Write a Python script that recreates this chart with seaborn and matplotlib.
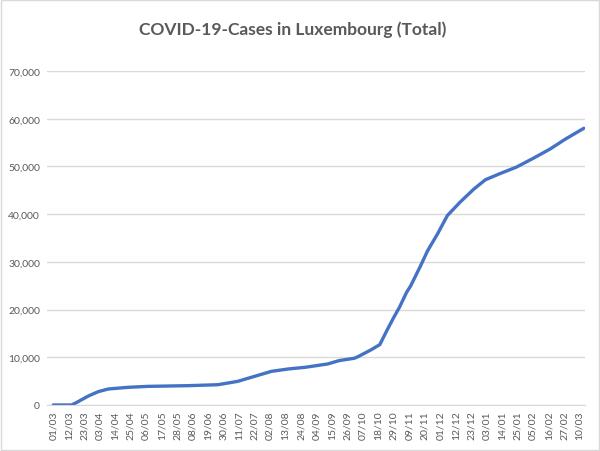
import pandas as pd
import matplotlib
matplotlib.use('Agg')
import matplotlib.pyplot as plt
import matplotlib.dates as mdates
from matplotlib.ticker import FuncFormatter
from matplotlib.patches import Rectangle
import seaborn as sns

# values
dates = ['2020-03-01', '2020-03-14', '2020-03-18', '2020-03-26', '2020-04-02', '2020-04-09',
         '2020-04-23', '2020-05-07', '2020-06-05', '2020-06-26', '2020-07-10', '2020-07-22',
         '2020-08-03', '2020-08-15', '2020-08-27', '2020-09-12', '2020-09-20', '2020-10-01',
         '2020-10-04', '2020-10-13', '2020-10-19', '2020-10-24', '2020-10-29', '2020-11-02',
         '2020-11-07', '2020-11-10', '2020-11-17', '2020-11-22', '2020-11-29', '2020-12-06',
         '2020-12-15', '2020-12-25', '2021-01-02', '2021-01-12', '2021-01-24', '2021-02-05',
         '2021-02-17', '2021-02-28', '2021-03-13']
cases = [0, 0, 600, 1900, 2800, 3350,
         3700, 3900, 4050, 4250, 4950, 6000,
         7050, 7550, 7900, 8600, 9300, 9800,
         10200, 11600, 12650, 15600, 18400, 20500,
         23600, 25000, 29200, 32350, 35850, 39700,
         42500, 45300, 47200, 48450, 49850, 51700,
         53650, 55750, 58000]

df = pd.DataFrame({'Date': pd.to_datetime(dates), 'Cases': cases})

tick_dates = pd.date_range('2020-03-01', periods=35, freq='11D')

sns.set_style('white')
plt.rcParams['font.family'] = ['Lato', 'DejaVu Sans']

fig = plt.figure(figsize=(6, 4.52), dpi=100)
ax = fig.add_axes([0.0783, 0.1018, 0.8967, 0.7389])

sns.lineplot(x='Date', y='Cases', data=df, ax=ax, color='#4472C4', linewidth=2.4)

ax.set_ylim(0, 70000)
ax.set_yticks(range(0, 70001, 10000))
ax.yaxis.set_major_formatter(FuncFormatter(lambda v, p: f'{int(v):,}'))
ax.set_xlim(pd.Timestamp('2020-03-01') - pd.Timedelta(days=4.5),
            pd.Timestamp('2020-03-01') + pd.Timedelta(days=377.8))
ax.set_xticks(tick_dates)
ax.xaxis.set_major_formatter(mdates.DateFormatter('%d/%m'))

ax.grid(axis='y', color='#D9D9D9', linewidth=1)
ax.set_axisbelow(True)
for s in ['top', 'right', 'left']:
    ax.spines[s].set_visible(False)
ax.spines['bottom'].set_color('#D9D9D9')
ax.tick_params(axis='both', length=0, colors='#595959', labelsize=7.5)
ax.tick_params(axis='x', rotation=90, pad=4)
ax.tick_params(axis='y', pad=5)
ax.set_xlabel('')
ax.set_ylabel('')

fig.text(0.488, 0.935, 'COVID-19-Cases in Luxembourg (Total)', ha='center', va='center',
         fontsize=12.5, color='#595959', fontweight='bold')

fig.patches.append(Rectangle((0.002, 0.002), 0.996, 0.996, transform=fig.transFigure,
                             fill=False, edgecolor='#D9D9D9', linewidth=1))

fig.savefig('out.png', dpi=100)
